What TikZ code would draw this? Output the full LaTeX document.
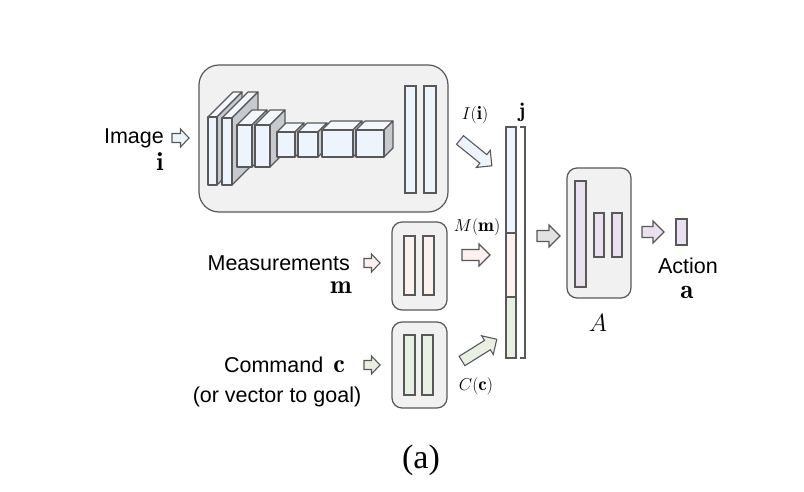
\documentclass[tikz,border=0pt]{standalone}
\usepackage{fontspec}
\setsansfont{Liberation Sans}
\newfontfamily\capfont{Liberation Serif}
\usetikzlibrary{calc}
\definecolor{edge}{HTML}{585858}
\definecolor{boxfill}{HTML}{F1F1F1}
\definecolor{bluef}{HTML}{EDF4FC}
\definecolor{pinkf}{HTML}{FBF1EE}
\definecolor{greenf}{HTML}{E8F0E3}
\definecolor{lavf}{HTML}{E9E1EF}
\definecolor{grayf}{HTML}{E2E2E2}
\definecolor{sidef}{HTML}{C6CACF}
\definecolor{topf}{HTML}{F4F7FB}
\tikzset{
  panel/.style={draw=edge, fill=boxfill, line width=1.2pt},
  bar/.style={draw=edge, line width=1.1pt},
  face/.style={draw=edge, line width=1.1pt, line join=round},
  arr/.style={draw=edge, line width=1.1pt, line join=miter},
  lbl/.style={font=\sffamily\fontsize{21.5}{26}\selectfont, inner sep=0pt},
  mlbl/.style={font=\fontsize{19}{23}\selectfont, inner sep=0pt},
  vlbl/.style={font=\fontsize{26}{30}\selectfont, inner sep=0pt},
}
% block arrow: #1 start, #2 angle, #3 length, #4 shaft half, #5 head half, #6 head length, #7 fill
\newcommand{\barrow}[7]{%
  \draw[arr, fill=#7, shift={#1}, rotate=#2]
    (0,-#4) -- ({#3-#6},-#4) -- ({#3-#6},-#5) -- (#3,0) -- ({#3-#6},#5) -- ({#3-#6},#4) -- (0,#4) -- cycle;}
% conv block: x1 x2 y1 y2 depth
\newcommand{\cblock}[5]{%
  \draw[face, fill=topf] (#1,#3) -- ({#1+#5},{#3-#5}) -- ({#2+#5},{#3-#5}) -- (#2,#3) -- cycle;
  \draw[face, fill=sidef] (#2,#3) -- ({#2+#5},{#3-#5}) -- ({#2+#5},{#4-#5}) -- (#2,#4) -- cycle;
  \draw[face, fill=bluef] (#1,#3) rectangle (#2,#4);}
\begin{document}
\begin{tikzpicture}[x=1pt,y=-1pt]
\useasboundingbox (0,0) rectangle (804,492);
% image panel
\draw[panel, rounded corners=20pt] (199,65) rectangle (448,212);
\cblock{208}{217}{117}{185}{25}
\cblock{222}{232}{118}{185}{26}
\cblock{237}{252}{125}{167}{15}
\cblock{255}{270}{125}{167}{15}
\cblock{277}{295}{132}{157}{9}
\cblock{298}{318}{132}{157}{9}
\cblock{322}{353}{130}{157}{9}
\cblock{356}{384}{130}{157}{9}
\draw[bar, fill=bluef] (405,86) rectangle (416,193);
\draw[bar, fill=bluef] (424,86) rectangle (436,193);
% measurement panel
\draw[panel, rounded corners=10pt] (392,222) rectangle (447,310);
\draw[bar, fill=pinkf] (404,236) rectangle (415,295);
\draw[bar, fill=pinkf] (423,236) rectangle (434,295);
% command panel
\draw[panel, rounded corners=10pt] (392,322) rectangle (447,408);
\draw[bar, fill=greenf] (404,335) rectangle (415,395);
\draw[bar, fill=greenf] (422,335) rectangle (433,395);
% concatenated vector j
\draw[bar, fill=bluef] (506,127) rectangle (516,233);
\draw[bar, fill=pinkf] (506,233) rectangle (516,297);
\draw[bar, fill=greenf] (506,297) rectangle (516,358);
\draw[edge, line width=1.1pt] (520,127) -- (525,127) -- (525,358) -- (520,358);
% action panel
\draw[panel, rounded corners=10pt] (567,168) rectangle (631,298);
\draw[bar, fill=lavf] (575,181) rectangle (586,287);
\draw[bar, fill=lavf] (594,213) rectangle (604,257);
\draw[bar, fill=lavf] (612,213) rectangle (622,257);
\draw[bar, fill=lavf] (676,219) rectangle (687,245);
% arrows
\barrow{(172,138)}{0}{17}{4.5}{9}{8.5}{bluef}
\barrow{(364,263)}{0}{16}{4.5}{9}{8.5}{pinkf}
\barrow{(364,365)}{0}{16}{4.5}{9}{8.5}{greenf}
\barrow{(460,140)}{-39}{41}{5.5}{11}{11}{bluef}
\barrow{(462,255)}{0}{28}{5.5}{11}{11}{pinkf}
\barrow{(462,361)}{32}{41}{5.5}{11}{11}{greenf}
\barrow{(537,236)}{0}{23}{5.5}{11}{11}{grayf}
\barrow{(642,232)}{0}{22}{5.5}{11}{11}{lavf}
% labels
\node[lbl, anchor=east] (img) at (164,138) {Image};
\node[vlbl] (imgv) at (160,162) {$\mathbf{i}$};
\node[lbl, anchor=east] (meas) at (350,263) {Measurements};
\node[vlbl] (measv) at (341,288) {$\mathbf{m}$};
\node[lbl, anchor=base east] (cmd) at (345,372.5) {Command\hspace{10pt}{\fontsize{26}{30}\selectfont$\mathbf{c}$}};
\node[lbl] (goal) at (277,397) {(or vector to goal)};
\node[mlbl] (Ii) at (475,115) {$I(\mathbf{i})$};
\node[mlbl] (Mm) at (477,227) {$M(\mathbf{m})$};
\node[mlbl] (Cc) at (476,386) {$C(\mathbf{c})$};
\node[mlbl, font=\fontsize{21}{25}\selectfont] (jv) at (522,112) {$\mathbf{j}$};
\node[mlbl, font=\fontsize{26}{30}\selectfont] (Alab) at (598,323) {$A$};
\node[lbl] (act) at (688,266) {Action};
\node[vlbl, font=\fontsize{27}{31}\selectfont] (av) at (687,292) {$\mathbf{a}$};
\node[inner sep=0pt, font=\capfont\fontsize{34}{40}\selectfont] (cap) at (421,460) {(a)};
\end{tikzpicture}
\end{document}
